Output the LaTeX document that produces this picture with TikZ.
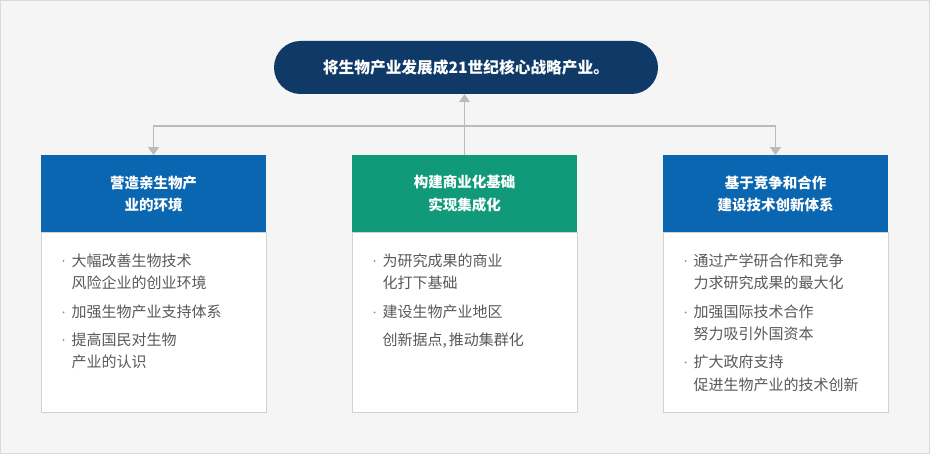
\documentclass[tikz,border=0pt]{standalone}
\usepackage{fontspec}
\setmainfont{Noto Sans CJK SC}
\usetikzlibrary{arrows.meta}
\definecolor{bgc}{HTML}{F5F5F5}
\definecolor{framec}{HTML}{DADADA}
\definecolor{navy}{HTML}{0F3A68}
\definecolor{hblue}{HTML}{0B66B1}
\definecolor{hgreen}{HTML}{109A7A}
\definecolor{bodyline}{HTML}{D2D2D2}
\definecolor{txt}{HTML}{595959}
\definecolor{arrc}{HTML}{BBBBBB}
\tikzset{
  pill/.style={fill=navy, rounded corners=26.5pt, minimum width=384pt, minimum height=53pt, inner sep=0pt,
    text=white, font=\fontsize{15.7}{20}\selectfont\bfseries},
  headbox/.style={minimum width=225pt, minimum height=77pt, inner sep=0pt, text=white, align=center,
    font=\fontsize{14.5}{22.5}\selectfont\bfseries},
  bodybox/.style={fill=white, draw=bodyline, line width=0.8pt, minimum width=225pt, minimum height=180pt,
    inner sep=0pt, anchor=north},
  itemline/.style={anchor=base west, inner sep=0pt, text=txt, font=\fontsize{15}{17}\selectfont},
  conn/.style={draw=arrc, line width=1.4pt, -{Triangle[width=11pt,length=8pt]}},
}
\newcommand{\bdot}[1]{\fill[txt!70] #1 circle (1pt);}
\begin{document}
\begin{tikzpicture}[x=1pt,y=-1pt]
\useasboundingbox (0,0) rectangle (930,454);
\fill[bgc, draw=framec, line width=1pt] (0.5,0.5) rectangle (929.5,453.5);

\node[pill] (title) at (466,67.5) {将生物产业发展成21世纪核心战略产业。};

% bodies
\node[bodybox] (b1) at (153.5,232) {};
\node[bodybox] (b2) at (464.5,232) {};
\node[bodybox] (b3) at (775.5,232) {};

% headers
\node[headbox, fill=hblue] (h1) at (153.5,193.75) {营造亲生物产\\业的环境};
\node[headbox, fill=hgreen] (h2) at (464.5,193.75) {构建商业化基础\\实现集成化};
\node[headbox, fill=hblue] (h3) at (775.5,193.75) {基于竞争和合作\\建设技术创新体系};

% connectors
\coordinate (j) at (464.5,126);
\draw[conn] (h2.north) -- (h2.north |- title.south);
\draw[conn] (j) -| (h1.north);
\draw[conn] (j) -| (h3.north);

% left items
\bdot{(63.5,261)}
\node[itemline] (a1) at (71.5,266.5) {大幅改善生物技术};
\node[itemline] (a2) at (71.5,288.5) {风险企业的创业环境};
\bdot{(63.5,312.5)}
\node[itemline] (a3) at (71.5,318) {加强生物产业支持体系};
\bdot{(63.5,340)}
\node[itemline] (a4) at (71.5,345.5) {提高国民对生物};
\node[itemline] (a5) at (71.5,367.5) {产业的认识};

% middle items
\bdot{(374.5,261)}
\node[itemline] (m1) at (382.5,266.5) {为研究成果的商业};
\node[itemline] (m2) at (382.5,288.5) {化打下基础};
\bdot{(374.5,312.5)}
\node[itemline] (m3) at (382.5,318) {建设生物产业地区};
\node[itemline] (m4) at (382.5,345.5) {创新据点,\hspace{2pt}推动集群化};

% right items
\bdot{(685.5,261)}
\node[itemline] (r1) at (693.5,266.5) {通过产学研合作和竞争};
\node[itemline] (r2) at (693.5,288.5) {力求研究成果的最大化};
\bdot{(685.5,312.5)}
\node[itemline] (r3) at (693.5,318) {加强国际技术合作};
\node[itemline] (r4) at (693.5,340) {努力吸引外国资本};
\bdot{(685.5,362.5)}
\node[itemline] (r5) at (693.5,368) {扩大政府支持};
\node[itemline] (r6) at (693.5,390.5) {促进生物产业的技术创新};
\end{tikzpicture}
\end{document}
